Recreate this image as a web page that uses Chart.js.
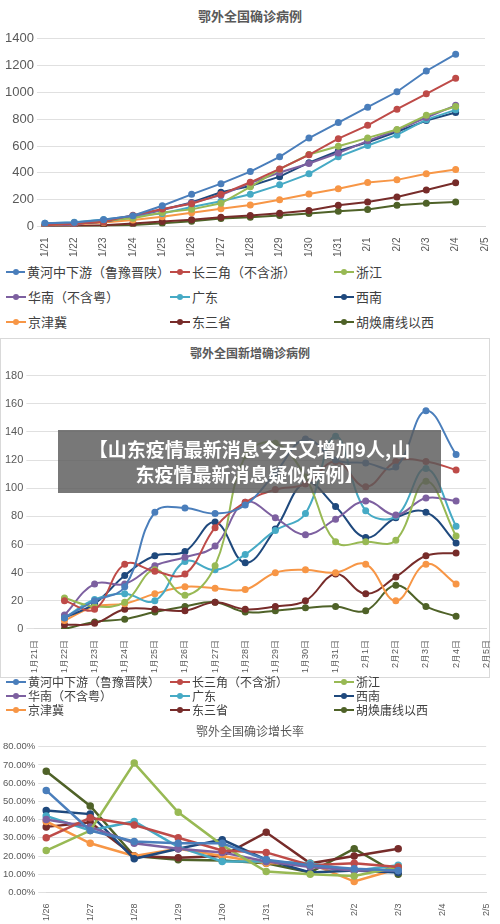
<!DOCTYPE html>
<html><head><meta charset="utf-8">
<script src="https://cdn.jsdelivr.net/npm/chart.js@4/dist/chart.umd.min.js"></script>
<style>
body{margin:0;width:500px;height:924px;background:#fff;position:relative;overflow:hidden;font-family:"Noto Sans CJK SC","Noto Sans",sans-serif}
.c{position:absolute;left:0}
.t{position:absolute;left:0;width:500px;text-align:center;color:#595959}
.lg{position:absolute;left:6px;width:490px;display:grid;grid-template-columns:164px 164px 160px;font-size:12px;color:#404040}
.lg div{display:flex;align-items:center;white-space:nowrap}
.lg i{display:inline-block;width:20px;height:2px;position:relative;margin-right:2px}
.lg i:after{content:"";position:absolute;left:7px;top:-2px;width:6px;height:6px;border-radius:3px;background:inherit}
#ban{position:absolute;left:58px;top:430px;width:383px;height:63px;background:rgba(90,90,90,0.82);color:#fff;font-weight:bold;font-size:19px;line-height:25px;text-align:center;padding-top:6px;box-sizing:border-box}
#box{position:absolute;left:0;top:338px;width:488px;height:338px;border:1px solid #d9d9d9}
</style></head><body>
<div class="t" style="top:6px;font-size:13px;font-weight:bold;font-family:'Noto Sans CJK SC'">鄂外全国确诊病例</div>
<canvas id="c1" class="c" style="top:28px" width="500" height="232"></canvas>
<div class="lg" id="l1" style="top:262px;row-gap:6px;font-size:13px;line-height:19px"></div>
<div id="box"></div>
<div class="t" style="top:344px;font-size:12px;font-weight:bold">鄂外全国新增确诊病例</div>
<canvas id="c2" class="c" style="top:366px" width="500" height="310"></canvas>
<div class="lg" id="l2" style="top:675px;row-gap:0px;font-size:12px;line-height:14px"></div>
<div class="t" style="top:722px;font-size:12px">鄂外全国确诊增长率</div>
<canvas id="c3" class="c" style="top:738px" width="500" height="186"></canvas>
<div id="ban">【山东疫情最新消息今天又增加9人,山<br>东疫情最新消息疑似病例】</div>
<script>
const names=["黄河中下游（鲁豫晋陕）","长三角（不含浙）","浙江","华南（不含粤）","广东","西南","京津冀","东三省","胡焕庸线以西"];
const colors=["#4a7ebb","#be4b48","#98b954","#7d60a0","#46aac5","#1f497d","#f79646","#772c2a","#4f6228"];
const labels1=["1/21","1/22","1/23","1/24","1/25","1/26","1/27","1/28","1/29","1/30","1/31","2/1","2/2","2/3","2/4","2/5"];
const cum=[
[25,30,50,80,155,240,320,410,520,660,775,890,1005,1160,1285],
[10,20,35,85,130,170,240,330,430,535,655,755,875,990,1105],
[5,27,43,62,104,128,173,296,428,537,599,661,724,829,895],
[5,15,47,79,124,175,234,324,403,470,548,639,720,813,904],
[25,32,53,78,98,146,188,241,311,393,520,604,683,797,870],
[5,20,35,73,125,180,256,302,372,476,563,628,707,790,851],
[10,15,30,48,73,103,132,160,200,242,282,328,348,394,426],
[3,6,9,23,37,50,69,83,99,119,158,183,220,272,326],
[0,0,5,12,24,40,60,70,83,98,114,127,158,174,183]];
const labels2=["1月21日","1月22日","1月23日","1月24日","1月25日","1月26日","1月27日","1月28日","1月29日","1月30日","1月31日","2月1日","2月2日","2月3日","2月4日","2月5日"];
const daily=[
[null,8,20,30,83,86,82,88,111,135,120,118,115,155,124],
[null,20,14,46,41,39,72,90,99,103,119,101,119,119,113],
[null,22,16,19,42,24,45,123,132,108,62,62,63,105,66],
[null,10,32,32,45,51,59,90,79,67,78,91,81,93,91],
[null,8,21,25,20,48,42,53,70,82,137,84,80,114,73],
[null,8,18,38,52,55,76,47,71,104,87,65,79,83,61],
[null,6,16,18,25,30,29,28,40,42,40,46,20,46,32],
[null,3,4,14,14,13,19,14,16,20,39,25,37,52,54],
[null,0,5,7,12,16,19,12,13,15,16,13,31,16,9]];
const labels3=["1/26","1/27","1/28","1/29","1/30","1/31","2/1","2/2","2/3","2/4","2/5"];
const rate=[
[56,34,28,27,27,18,15,13,12],
[30,41,37,30,23,22,15,16,14],
[23,34,71,44,26,11.5,10,9,14],
[40,36,27,24,22,17,14,12,12],
[42,34,39,25,17,17,16,12,15],
[45,43,18.5,24,29,18,11,12,11],
[39,27,20,24,20,16,16,6,13],
[36,38.5,20,19,20,33,16,20,24],
[66.5,47.5,20,18,17.5,16,11,24,10]];

function legend(id){const el=document.getElementById(id);names.forEach((n,i)=>{el.innerHTML+=`<div><i style="background:${colors[i]}"></i>${n}</div>`});}
legend('l1');legend('l2');

function mk(id,labels,data,opt){
 new Chart(document.getElementById(id),{type:'line',
 data:{labels,datasets:data.map((d,i)=>({data:d,borderColor:colors[i],backgroundColor:colors[i],borderWidth:opt.bw||2,pointRadius:2.5,tension:opt.tension||0}))},
 options:{responsive:false,animation:false,layout:{padding:opt.pad},
  plugins:{legend:{display:false},tooltip:{enabled:false}},
  scales:{x:{offset:false,grid:{display:false,drawTicks:true},border:{color:'#d9d9d9'},ticks:{color:'#595959',font:{size:opt.xs||10},minRotation:90,maxRotation:90,autoSkip:false}},
   y:{min:0,max:opt.max,ticks:{stepSize:opt.step,color:'#595959',font:{size:opt.ys||12},callback:opt.cb||(v=>v)},grid:{color:'#e0e0e0'},border:{display:false}}}}});
}
mk('c1',labels1,cum,{max:1400,step:200,pad:{left:2,right:12,top:4},ys:13,xs:10});
mk('c2',labels2,daily,{max:180,step:20,pad:{left:2,right:12,top:0},tension:0.4,ys:11,xs:9});
mk('c3',labels3,rate,{max:80,step:10,pad:{left:0,right:12,top:0},ys:9.5,xs:9,bw:2.5,cb:v=>v.toFixed(2)+'%'});
</script></body></html>
